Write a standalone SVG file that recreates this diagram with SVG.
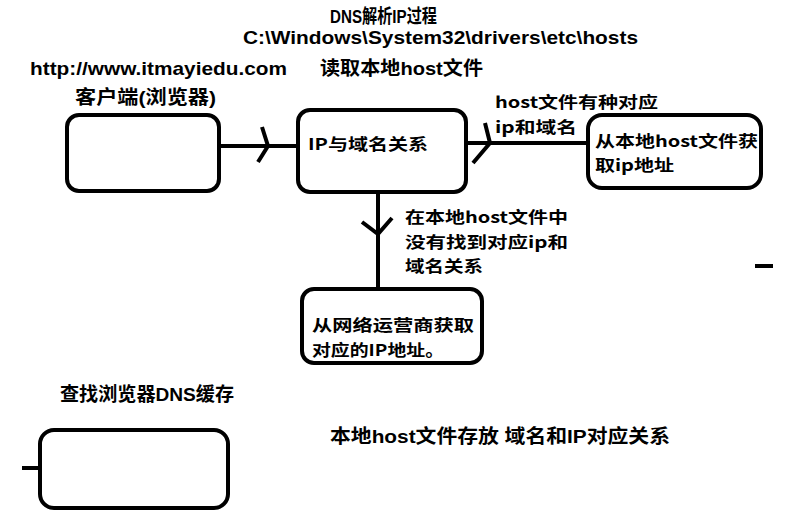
<svg xmlns="http://www.w3.org/2000/svg" width="795" height="516" viewBox="0 0 795 516">
<style>
.box{fill:#fff;stroke:#000;stroke-width:4}
.ln{fill:none;stroke:#000;stroke-width:4;stroke-linecap:butt}
.nar{font-family:"Liberation Sans","Noto Sans CJK SC",sans-serif;font-size:19px;font-weight:bold;fill:#000}
.sp{font-family:"Noto Sans CJK SC",sans-serif;font-size:16px;font-weight:bold;fill:#000}
</style>
<rect width="795" height="516" fill="#fff"/>
<g id="title">
<text class="nar" x="330" y="23" textLength="107" lengthAdjust="spacingAndGlyphs">DNS解析IP过程</text>
<text class="nar" x="243" y="44" textLength="395" lengthAdjust="spacingAndGlyphs">C:\Windows\System32\drivers\etc\hosts</text>
<text class="nar" x="30" y="75" textLength="257" lengthAdjust="spacingAndGlyphs">http://www.itmayiedu.com</text>
<text class="nar" x="320" y="75" textLength="163" lengthAdjust="spacingAndGlyphs">读取本地host文件</text>
</g>
<g id="connectors">
<line class="ln" x1="219" y1="146" x2="298" y2="146"/>
<polyline class="ln" points="262,127 268,146 258,162"/>
<line class="ln" x1="466" y1="143" x2="588" y2="143"/>
<polyline class="ln" points="485,123 490,143 473,163"/>
<line class="ln" x1="378" y1="192" x2="378" y2="290"/>
<polyline class="ln" points="362,222 378,234 392,218"/>
<line class="ln" x1="22" y1="468" x2="40" y2="468"/>
</g>
<g id="client">
<text class="nar" x="75" y="104" textLength="141" lengthAdjust="spacingAndGlyphs">客户端(浏览器)</text>
<rect class="box" x="67" y="115" width="152" height="76" rx="12"/>
</g>
<g id="ipdomain">
<rect class="box" x="298" y="110" width="168" height="82" rx="12"/>
<text class="sp" x="308" y="150" textLength="120" lengthAdjust="spacingAndGlyphs">IP与域名关系</text>
</g>
<g id="label-host">
<text class="sp" x="495" y="108" textLength="163" lengthAdjust="spacingAndGlyphs">host文件有种对应</text>
<text class="sp" x="495" y="133" textLength="82" lengthAdjust="spacingAndGlyphs">ip和域名</text>
</g>
<g id="localhost">
<rect class="box" x="588" y="115" width="173" height="73" rx="14"/>
<text class="sp" x="595" y="147" textLength="163" lengthAdjust="spacingAndGlyphs">从本地host文件获</text>
<text class="sp" x="595" y="171" textLength="79" lengthAdjust="spacingAndGlyphs">取ip地址</text>
</g>
<g id="label-notfound">
<text class="sp" x="405" y="223" textLength="163" lengthAdjust="spacingAndGlyphs">在本地host文件中</text>
<text class="sp" x="405" y="248" textLength="163" lengthAdjust="spacingAndGlyphs">没有找到对应ip和</text>
<text class="sp" x="405" y="272" textLength="78" lengthAdjust="spacingAndGlyphs">域名关系</text>
</g>
<g id="network">
<rect class="box" x="302" y="289" width="180" height="74" rx="12"/>
<text class="sp" x="312" y="331" textLength="162" lengthAdjust="spacingAndGlyphs">从网络运营商获取</text>
<text class="sp" x="312" y="356" textLength="132" lengthAdjust="spacingAndGlyphs">对应的IP地址。</text>
</g>
<g id="dash">
<line class="ln" x1="755" y1="266" x2="773" y2="266"/>
</g>
<g id="dnscache">
<text class="nar" x="60" y="401" textLength="174" lengthAdjust="spacingAndGlyphs">查找浏览器DNS缓存</text>
<rect class="box" x="40" y="430" width="188" height="78" rx="14"/>
</g>
<g id="note">
<text class="nar" x="330" y="443" textLength="340" lengthAdjust="spacingAndGlyphs">本地host文件存放 域名和IP对应关系</text>
</g>
</svg>
